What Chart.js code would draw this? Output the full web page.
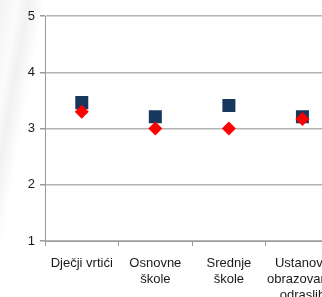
<!DOCTYPE html>
<html>
<head>
<meta charset="utf-8">
<script src="https://cdn.jsdelivr.net/npm/chart.js@4/dist/chart.umd.min.js"></script>
<style>
  html, body { margin: 0; padding: 0; overflow: hidden; background: #fff; }
  body { width: 322px; height: 297px; position: relative;
    background: linear-gradient(100deg, #f3f3f3 0px, #fbfbfb 18px, #f1f1f1 28px, #fff 44px); }
  #wrap { position: absolute; left: 0; top: 0; }
</style>
</head>
<body>
<div id="wrap"><canvas id="myChart" width="349" height="297"></canvas></div>
<script>
  // categories and values
  const categories = [
    "Dječji vrtići",
    ["Osnovne", "škole"],
    ["Srednje", "škole"],
    ["Ustanove", "obrazovanja", "odraslih"],
  ];
  const navyValues = [3.46, 3.21, 3.41, 3.21];
  const redValues = [3.3, 3.0, 3.0, 3.17];
  const yTicks = [1, 2, 3, 4, 5];

  Chart.defaults.font.family = "'Liberation Sans', Arial, sans-serif";
  Chart.defaults.font.size = 13;
  Chart.defaults.color = "#1a1a1a";

  const ctx = document.getElementById("myChart");

  new Chart(ctx, {
    type: "line",
    data: {
      labels: categories,
      datasets: [
        {
          label: "red",
          data: redValues,
          showLine: false,
          pointStyle: "rectRot",
          pointRadius: 7,
          pointHoverRadius: 7,
          backgroundColor: "#ff0000",
          borderColor: "#ff0000",
          borderWidth: 0,
        },
        {
          label: "navy",
          data: navyValues,
          showLine: false,
          pointStyle: "rect",
          pointRadius: 9.2,
          pointHoverRadius: 9.2,
          backgroundColor: "#17375e",
          borderColor: "#17375e",
          borderWidth: 0,
        },
      ],
    },
    options: {
      responsive: false,
      animation: false,
      events: [],
      layout: { padding: { top: 16, left: 0, right: 0, bottom: 0 } },
      plugins: { legend: { display: false }, tooltip: { enabled: false } },
      scales: {
        x: {
          type: "category",
          offset: true,
          grid: {
            offset: true,
            drawOnChartArea: false,
            drawTicks: true,
            tickLength: 5,
            color: "#999",
          },
          border: { color: "#999" },
          ticks: { maxRotation: 0, autoSkip: false, padding: 10 },
          afterFit: (s) => { s.height = 56; },
        },
        y: {
          min: 1,
          max: 5,
          afterBuildTicks: (s) => { s.ticks = yTicks.map((v) => ({ value: v })); },
          grid: { color: "#b4b4b4", lineWidth: 1.5, tickLength: 5, tickColor: "#999" },
          border: { color: "#999" },
          ticks: { padding: 5 },
          afterFit: (s) => { s.width = 45; },
        },
      },
    },
  });
</script>
</body>
</html>
